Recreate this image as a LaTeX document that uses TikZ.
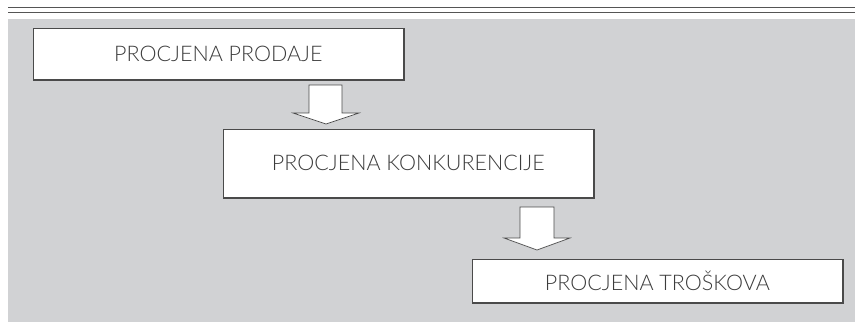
\documentclass[tikz,border=0pt]{standalone}
\usepackage{fontspec}
\setmainfont{Lato}[UprightFont=* Light]
\definecolor{bggray}{HTML}{D1D2D4}
\definecolor{edgegray}{HTML}{4A4A4A}
\definecolor{txtgray}{HTML}{3C3C3C}
\definecolor{rulegray}{HTML}{555555}
\begin{document}
\begin{tikzpicture}[x=1pt,y=-1pt,
  procbox/.style={draw=edgegray,line width=0.7pt,fill=white,inner sep=0pt,anchor=north west,
    font=\fontsize{21.5}{24}\selectfont,text=txtgray},
  blockarrow/.style={draw=edgegray,line width=0.7pt,fill=white,line join=miter}]
\useasboundingbox (0,0) rectangle (855,327);
% top double rule
\draw[rulegray,line width=0.8pt] (8,7.5) -- (855,7.5);
\draw[rulegray,line width=1.3pt] (8,12.5) -- (855,12.5);
% background
\fill[bggray] (8,19) rectangle (855,322);
% boxes
\node[procbox,minimum width=370pt,minimum height=51pt] (b1) at (33,28) {PROCJENA PRODAJE};
\node[procbox,minimum width=370pt,minimum height=68pt] (b2) at (223,129) {PROCJENA KONKURENCIJE};
\node[procbox,minimum width=370pt,minimum height=43pt] (b3) at (472,259) {PROCJENA TROŠKOVA};
% shadows on right and bottom edges
\foreach \b in {b1,b2,b3}{
  \draw[edgegray,line width=1.2pt] ([xshift=0.6pt]\b.north east) -- ([xshift=0.6pt,yshift=-0.6pt]\b.south east) -- ([yshift=-0.6pt]\b.south west);
}
% block arrows
\draw[blockarrow] (309,85) -- (342,85) -- (342,113) -- (359,113) -- (326,124) -- (293,113) -- (309,113) -- cycle;
\draw[blockarrow] (520,207) -- (554,207) -- (554,238) -- (570,238) -- (537,250) -- (504,238) -- (520,238) -- cycle;
\end{tikzpicture}
\end{document}
